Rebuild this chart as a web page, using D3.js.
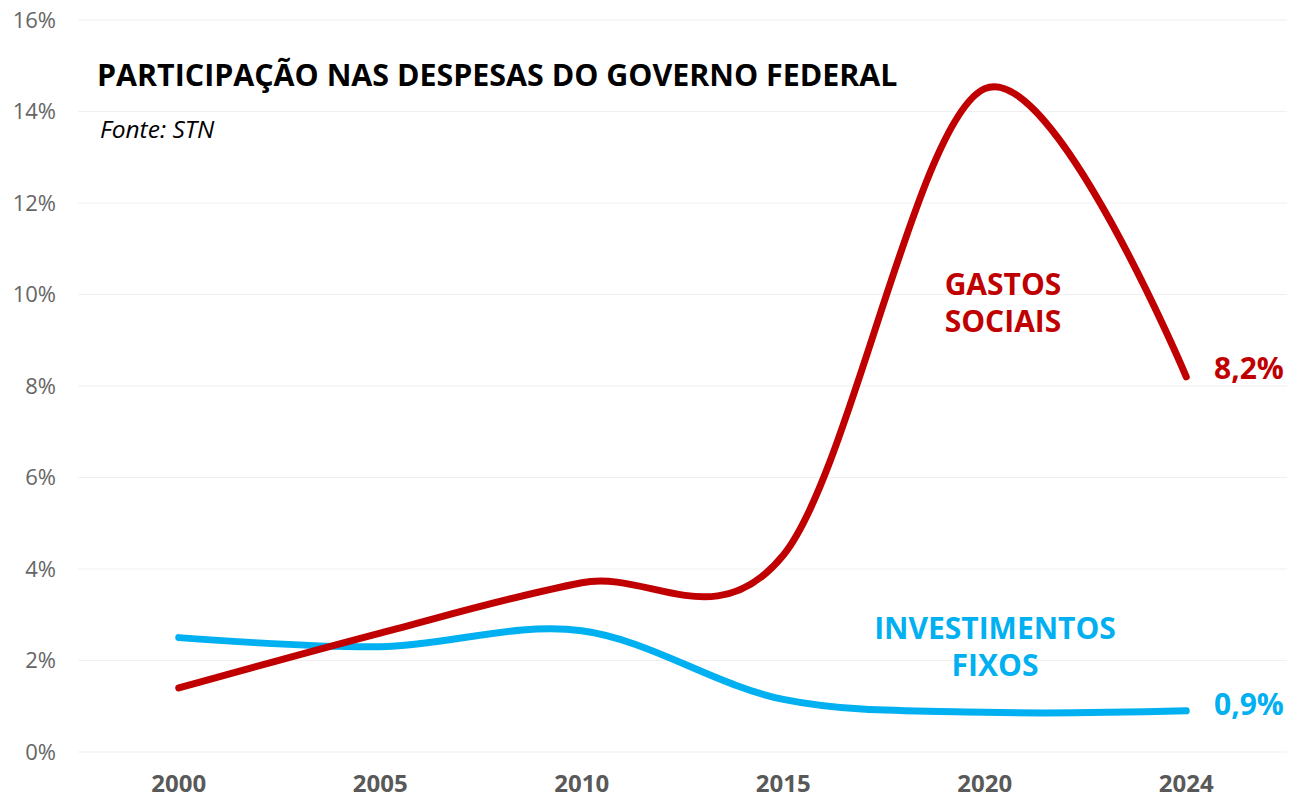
<!DOCTYPE html>
<html><head><meta charset="utf-8">
<script src="https://cdn.jsdelivr.net/npm/d3@7"></script>
<style>
body{margin:0;background:#fff;}
text{font-family:"Open Sans","Noto Sans",sans-serif;}
</style></head>
<body><svg id="c" width="1289" height="799"></svg>
<script>
const categories = ["2000","2005","2010","2015","2020","2024"];
const gastosSociais = [1.4, 2.6, 3.7, 4.3, 14.5, 8.2];
const investimentosFixos = [2.5, 2.3, 2.65, 1.15, 0.87, 0.9];
const yTicks = [0,2,4,6,8,10,12,14,16];

const svg = d3.select("#c");
const mLeft = 78, mRight = 1287, mTop = 20, mBottom = 752;
const x = d3.scaleBand().domain(categories).range([mLeft,mRight]);
const y = d3.scaleLinear().domain([0,16]).range([mBottom,mTop]);
const cx = d => x(d) + x.bandwidth()/2;

// gridlines
svg.append("g").selectAll("line").data(yTicks).join("line")
  .attr("x1",mLeft).attr("x2",mRight)
  .attr("y1",d=>y(d)).attr("y2",d=>y(d))
  .attr("stroke","#f0f0f0").attr("stroke-width",1.2);

// y axis labels
const yAxis = svg.append("g").attr("transform",`translate(${mLeft},0)`)
  .call(d3.axisLeft(y).tickValues(yTicks).tickFormat(d=>d+"%").tickSize(0).tickPadding(22));
yAxis.select(".domain").remove();
yAxis.selectAll("text").attr("font-size",22).attr("fill","#666").attr("font-family","'Open Sans',sans-serif");

// x axis labels
const xAxis = svg.append("g").attr("transform",`translate(0,${mBottom})`)
  .call(d3.axisBottom(x).tickSize(0).tickPadding(0));
xAxis.select(".domain").remove();
xAxis.selectAll("text").attr("y",40).attr("dy",0).attr("font-size",24).attr("font-weight","bold").attr("fill","#595959").attr("font-family","'Open Sans',sans-serif");

const line = d3.line().x((d,i)=>cx(categories[i])).y(d=>y(d)).curve(d3.curveCardinal.tension(0));

svg.append("path").datum(investimentosFixos).attr("d",line)
  .attr("fill","none").attr("stroke","#00B0F0").attr("stroke-width",7).attr("stroke-linecap","round");
svg.append("path").datum(gastosSociais).attr("d",line)
  .attr("fill","none").attr("stroke","#C00000").attr("stroke-width",7).attr("stroke-linecap","round");

// title
svg.append("text").attr("x",97).attr("y",86).attr("font-size",30.4).attr("font-weight","bold").attr("fill","#000")
  .text("PARTICIPAÇÃO NAS DESPESAS DO GOVERNO FEDERAL");
svg.append("text").attr("x",100).attr("y",138).attr("font-size",24.5).attr("font-style","italic").attr("fill","#000")
  .text("Fonte: STN");

// series labels
const lastI = categories.length-1;
svg.append("text").attr("font-size",30).attr("font-weight","bold").attr("fill","#C00000")
  .attr("text-anchor","middle")
  .selectAll("tspan").data(["GASTOS","SOCIAIS"]).join("tspan")
  .attr("x",1003).attr("y",(d,i)=>295+i*37).text(d=>d);
svg.append("text").attr("font-size",30).attr("font-weight","bold").attr("fill","#00B0F0")
  .attr("text-anchor","middle")
  .selectAll("tspan").data(["INVESTIMENTOS","FIXOS"]).join("tspan")
  .attr("x",995).attr("y",(d,i)=>639+i*37).text(d=>d);

svg.append("text").attr("x",1214).attr("y",y(gastosSociais[lastI])+2).attr("font-size",30).attr("font-weight","bold")
  .attr("fill","#C00000").text(gastosSociais[lastI].toFixed(1).replace(".",",")+"%");
svg.append("text").attr("x",1214).attr("y",y(investimentosFixos[lastI])+4).attr("font-size",30).attr("font-weight","bold")
  .attr("fill","#00B0F0").text(investimentosFixos[lastI].toFixed(1).replace(".",",")+"%");
</script></body></html>
